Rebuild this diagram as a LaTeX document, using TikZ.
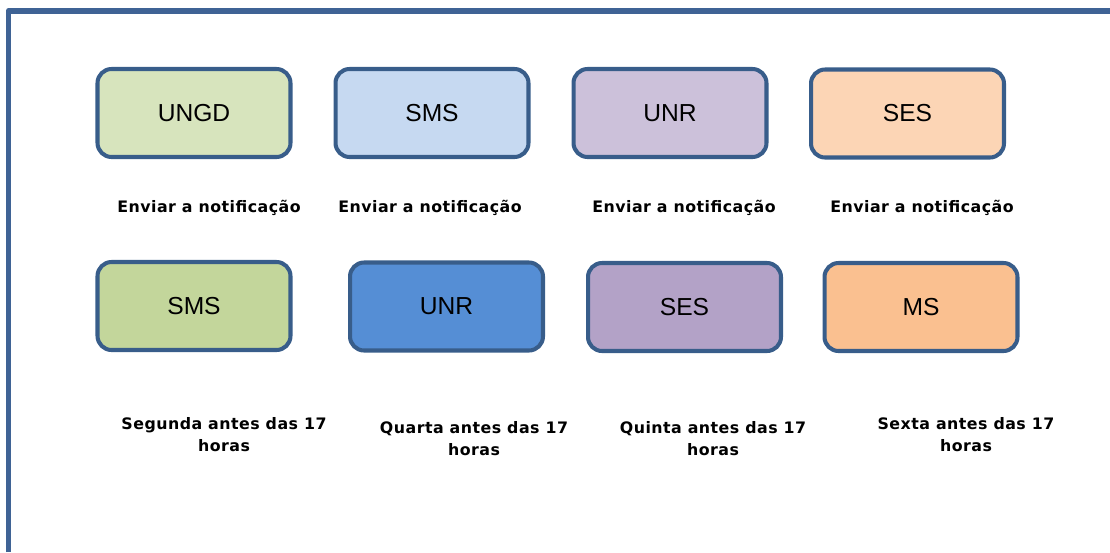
\documentclass[tikz,border=0pt]{standalone}
\usepackage{fontspec}
\setmainfont{Liberation Sans}
\newfontfamily\notefont[LetterSpace=3]{DejaVu Sans}
\definecolor{frameblue}{HTML}{3F6395}
\definecolor{edgeblue}{HTML}{385D8A}
\definecolor{greenA}{HTML}{D7E4BD}
\definecolor{blueA}{HTML}{C6D9F1}
\definecolor{lilacA}{HTML}{CCC1DA}
\definecolor{peachA}{HTML}{FCD5B5}
\definecolor{greenB}{HTML}{C3D69B}
\definecolor{blueB}{HTML}{558ED5}
\definecolor{lilacB}{HTML}{B3A2C7}
\definecolor{peachB}{HTML}{FAC090}
\begin{document}
\begin{tikzpicture}[x=0.02cm,y=-0.02cm,line join=round,line cap=round,
	orgbox/.style={draw=edgeblue,line width=2.3pt,rounded corners=0.28cm,
		minimum width=3.86cm,minimum height=1.76cm,inner sep=0pt,
		font=\fontsize{14}{16}\selectfont},
	notelabel/.style={font=\notefont\bfseries\fontsize{9}{12.5}\selectfont,align=center,inner sep=0pt}]
	\useasboundingbox (0,0) rectangle (1110,552);
	% frame
	\draw[frameblue,line width=3.4pt,line cap=butt] (8.5,552) -- (8.5,11) -- (1110,11);
	
	% first row
	\foreach \n/\x/\y/\c/\t in {ungd/194/113/greenA/UNGD, smsA/432/113/blueA/SMS,
		unrA/670/113/lilacA/UNR, sesA/907.5/113.5/peachA/SES}
	\node[orgbox,fill=\c] (\n) at (\x,\y) {\t};
	
	\foreach \n/\x in {enviarA/209, enviarB/430, enviarC/684, enviarD/922}
	\node[notelabel] (\n) at (\x,208) {Enviar a notificação};
	
	% second row
	\foreach \n/\x/\y/\c/\t in {smsB/194/306/greenB/SMS, unrB/446.5/306.5/blueB/UNR,
		sesB/684.5/307/lilacB/SES, ms/921/307/peachB/MS}
	\node[orgbox,fill=\c] (\n) at (\x,\y) {\t};
	
	\node[notelabel] (segunda) at (224,435) {Segunda antes das 17\\horas};
	\node[notelabel] (quarta) at (474,439) {Quarta antes das 17\\horas};
	\node[notelabel] (quinta) at (713,439) {Quinta antes das 17\\horas};
	\node[notelabel] (sexta) at (966,435) {Sexta antes das 17\\horas};
\end{tikzpicture}
\end{document}
